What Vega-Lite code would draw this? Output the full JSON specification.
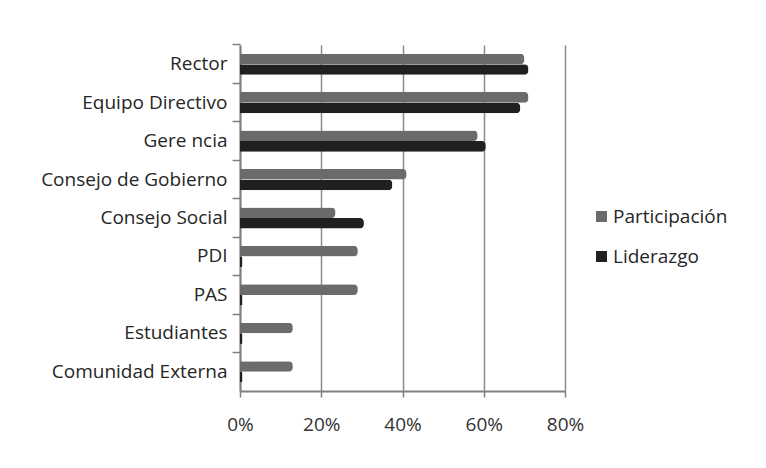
{
  "$schema": "https://vega.github.io/schema/vega-lite/v6.json",
  "width": 325,
  "height": 346,
  "autosize": {"type": "none"},
  "padding": {"left": 240, "top": 45, "right": 201, "bottom": 77},
  "background": "white",
  "config": {
    "view": {"stroke": null},
    "font": "Open Sans"
  },
  "data": {
    "values": [
      {"cat": "Rector", "serie": "Participación", "v": 0.70},
      {"cat": "Rector", "serie": "Liderazgo", "v": 0.71},
      {"cat": "Equipo Directivo", "serie": "Participación", "v": 0.71},
      {"cat": "Equipo Directivo", "serie": "Liderazgo", "v": 0.69},
      {"cat": "Gere ncia", "serie": "Participación", "v": 0.585},
      {"cat": "Gere ncia", "serie": "Liderazgo", "v": 0.605},
      {"cat": "Consejo de Gobierno", "serie": "Participación", "v": 0.41},
      {"cat": "Consejo de Gobierno", "serie": "Liderazgo", "v": 0.375},
      {"cat": "Consejo Social", "serie": "Participación", "v": 0.235},
      {"cat": "Consejo Social", "serie": "Liderazgo", "v": 0.305},
      {"cat": "PDI", "serie": "Participación", "v": 0.29},
      {"cat": "PDI", "serie": "Liderazgo", "v": 0.006},
      {"cat": "PAS", "serie": "Participación", "v": 0.29},
      {"cat": "PAS", "serie": "Liderazgo", "v": 0.006},
      {"cat": "Estudiantes", "serie": "Participación", "v": 0.13},
      {"cat": "Estudiantes", "serie": "Liderazgo", "v": 0.006},
      {"cat": "Comunidad Externa", "serie": "Participación", "v": 0.13},
      {"cat": "Comunidad Externa", "serie": "Liderazgo", "v": 0.006}
    ]
  },
  "mark": {"type": "bar", "cornerRadiusEnd": 4},
  "encoding": {
    "y": {
      "field": "cat",
      "type": "nominal",
      "sort": null,
      "scale": {"paddingInner": 0.45, "paddingOuter": 0.225},
      "axis": {
        "title": null,
        "labelFontSize": 19,
        "labelColor": "#262626",
        "labelPadding": 5,
        "labelLimit": 260,
        "bandPosition": -0.41,
        "tickSize": 8,
        "tickColor": "#808080",
        "tickWidth": 1.5,
        "domainColor": "#808080",
        "domainWidth": 2,
        "grid": false
      }
    },
    "yOffset": {"field": "serie", "sort": ["Participación", "Liderazgo"]},
    "x": {
      "field": "v",
      "type": "quantitative",
      "scale": {"domain": [0, 0.8]},
      "axis": {
        "title": null,
        "format": ".0%",
        "values": [0, 0.2, 0.4, 0.6, 0.8],
        "labelFontSize": 19,
        "labelColor": "#333333",
        "labelPadding": 18,
        "labelFlush": false,
        "tickSize": 6,
        "tickColor": "#808080",
        "tickWidth": 1.5,
        "domainColor": "#808080",
        "domainWidth": 2,
        "grid": true,
        "gridColor": "#8c8c8c",
        "gridWidth": 1.5
      }
    },
    "color": {
      "field": "serie",
      "type": "nominal",
      "sort": ["Participación", "Liderazgo"],
      "scale": {"domain": ["Participación", "Liderazgo"], "range": ["#6b6b6b", "#202020"]},
      "legend": {
        "title": null,
        "orient": "none",
        "legendX": 352,
        "legendY": 162,
        "symbolType": "square",
        "symbolSize": 121,
        "symbolStrokeWidth": 0,
        "labelFontSize": 19,
        "labelColor": "#262626",
        "labelOffset": 2,
        "labelLimit": 200,
        "rowPadding": 20
      }
    }
  }
}
